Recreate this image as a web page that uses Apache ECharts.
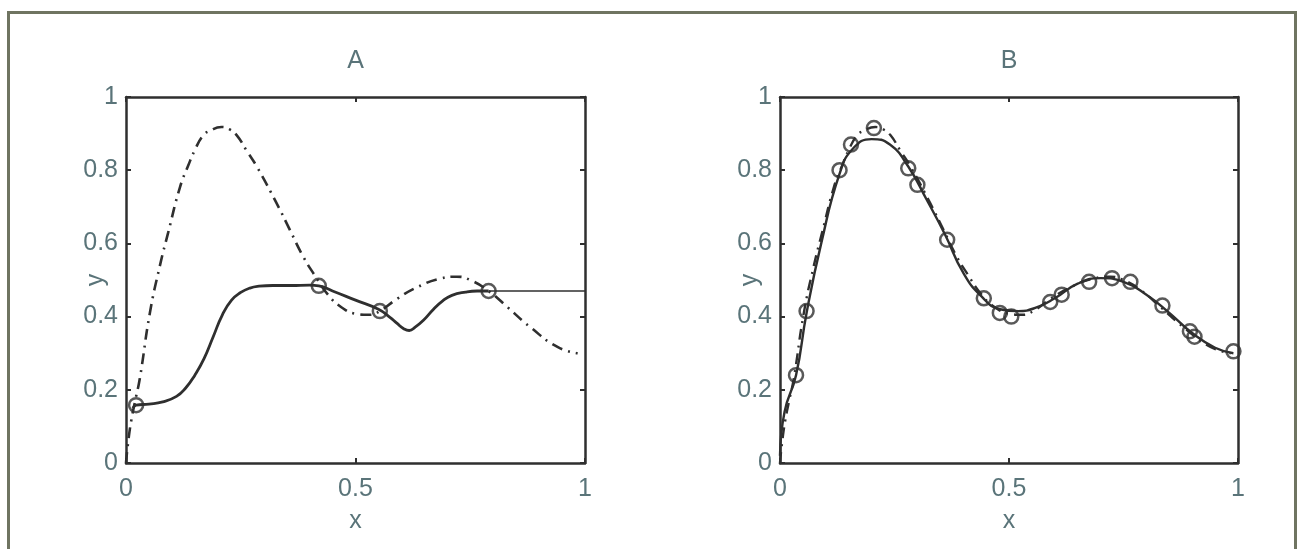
<!DOCTYPE html>
<html>
<head>
<meta charset="utf-8">
<script src="https://cdn.jsdelivr.net/npm/echarts@6/dist/echarts.min.js"></script>
<style>
html,body{margin:0;padding:0;background:#fff;}
#chart{width:1306px;height:549px;}
</style>
</head>
<body>
<div id="chart"></div>
<script>
// ---- data ----
const panelTitles = ['A', 'B'];
const xTickValues = [0, 0.5, 1];
const yTickValues = [0, 0.2, 0.4, 0.6, 0.8, 1];

// true function (dash-dot), used in both panels
const trueX = [0, 0.005, 0.012, 0.02, 0.03, 0.052, 0.074, 0.092, 0.118, 0.136, 0.15, 0.168, 0.183, 0.208, 0.225, 0.241, 0.263, 0.285, 0.328, 0.357, 0.386, 0.41, 0.44, 0.47, 0.5, 0.53, 0.553, 0.59, 0.634, 0.685, 0.721, 0.75, 0.79, 0.831, 0.881, 0.94, 0.984];
const trueY = [0, 0.06, 0.12, 0.17, 0.23, 0.41, 0.54, 0.63, 0.755, 0.814, 0.855, 0.895, 0.908, 0.918, 0.912, 0.896, 0.853, 0.81, 0.71, 0.637, 0.564, 0.515, 0.46, 0.425, 0.408, 0.405, 0.415, 0.448, 0.48, 0.504, 0.509, 0.5, 0.47, 0.426, 0.371, 0.317, 0.30];

// panel A fitted curve (solid)
const fitAX = [0.015, 0.022, 0.05, 0.08, 0.11, 0.13, 0.15, 0.17, 0.19, 0.21, 0.23, 0.25, 0.27, 0.29, 0.32, 0.36, 0.40, 0.42, 0.45, 0.50, 0.55, 0.575, 0.59, 0.605, 0.617, 0.63, 0.648, 0.67, 0.69, 0.71, 0.74, 0.765, 0.79];
const fitAY = [0.15, 0.158, 0.161, 0.167, 0.182, 0.205, 0.24, 0.285, 0.345, 0.405, 0.445, 0.466, 0.478, 0.483, 0.485, 0.485, 0.486, 0.484, 0.47, 0.445, 0.42, 0.398, 0.382, 0.367, 0.362, 0.371, 0.39, 0.42, 0.443, 0.458, 0.467, 0.47, 0.47];
// panel A thin continuation
const tailAX = [0.79, 1];
const tailAY = [0.47, 0.47];
// panel A sample points
const ptsAX = [0.022, 0.42, 0.553, 0.79];
const ptsAY = [0.158, 0.484, 0.415, 0.47];

// panel B fitted curve (solid)
const fitBX = [0, 0.01, 0.035, 0.058, 0.09, 0.13, 0.16, 0.2, 0.24, 0.28, 0.32, 0.36, 0.4, 0.44, 0.48, 0.52, 0.56, 0.6, 0.65, 0.7, 0.75, 0.8, 0.85, 0.9, 0.95, 0.99];
const fitBY = [0.02, 0.14, 0.24, 0.41, 0.6, 0.79, 0.86, 0.885, 0.87, 0.81, 0.72, 0.625, 0.52, 0.455, 0.42, 0.415, 0.425, 0.45, 0.49, 0.505, 0.495, 0.46, 0.41, 0.355, 0.315, 0.30];
// panel B sample points
const ptsBX = [0.035, 0.058, 0.13, 0.155, 0.205, 0.28, 0.30, 0.365, 0.445, 0.48, 0.505, 0.59, 0.615, 0.675, 0.725, 0.765, 0.835, 0.895, 0.905, 0.99];
const ptsBY = [0.24, 0.415, 0.80, 0.87, 0.915, 0.805, 0.76, 0.61, 0.45, 0.41, 0.40, 0.44, 0.46, 0.495, 0.505, 0.495, 0.43, 0.36, 0.345, 0.305];

// ---- build ----
const zip = (xs, ys) => xs.map((x, i) => [x, ys[i]]);
const TXT = '#5a7479';
const LINE = '#2f2f2f';
const FONT = '"Liberation Sans", Arial, sans-serif';
const FS = 25;
const DASHDOT = [11, 6, 2, 6];

const grids = [
  {left: 126, top: 97, width: 459, height: 366},
  {left: 780, top: 97, width: 458, height: 366}
];

function fmt(v) {
  const r = Math.round(v * 10) / 10;
  return String(r);
}

const xAxes = [], yAxes = [];
grids.forEach((g, gi) => {
  const common = {
    type: 'value', min: 0, max: 1, gridIndex: gi,
    nameMoveOverlap: false,
    axisLine: {show: true, onZero: false, lineStyle: {color: LINE, width: 2.5}},
    axisTick: {show: true, inside: true, length: 5, lineStyle: {color: LINE, width: 2}},
    splitLine: {show: false}
  };
  xAxes.push(Object.assign({}, common, {
    position: 'bottom', interval: xTickValues[1] - xTickValues[0],
    name: 'x', nameLocation: 'middle', nameGap: 46,
    nameTextStyle: {color: TXT, fontSize: FS, fontFamily: FONT},
    axisLabel: {color: TXT, fontSize: FS, fontFamily: FONT, margin: 14, formatter: fmt}
  }));
  xAxes.push(Object.assign({}, common, {
    position: 'top', interval: xTickValues[1] - xTickValues[0],
    name: panelTitles[gi], nameLocation: 'middle', nameGap: 23,
    nameTextStyle: {color: TXT, fontSize: FS, fontFamily: FONT},
    axisLabel: {show: false}
  }));
  yAxes.push(Object.assign({}, common, {
    position: 'left', interval: yTickValues[1] - yTickValues[0],
    name: 'y', nameLocation: 'middle', nameGap: 17, nameRotate: 90,
    nameTextStyle: {color: TXT, fontSize: FS, fontFamily: FONT},
    axisLabel: {color: TXT, fontSize: FS, fontFamily: FONT, margin: 8, formatter: fmt}
  }));
  yAxes.push(Object.assign({}, common, {
    position: 'right', interval: yTickValues[1] - yTickValues[0],
    axisLabel: {show: false}
  }));
});

function lineSeries(xs, ys, axis, type, width) {
  return {
    type: 'line', xAxisIndex: axis, yAxisIndex: axis,
    data: zip(xs, ys), showSymbol: false, symbol: 'none',
    smooth: 0.5, silent: true, animation: false,
    lineStyle: {color: LINE, width: width, type: type}
  };
}
function pointSeries(xs, ys, axis) {
  return {
    type: 'scatter', xAxisIndex: axis, yAxisIndex: axis,
    data: zip(xs, ys), symbol: 'circle', symbolSize: 14,
    silent: true, animation: false,
    itemStyle: {color: 'rgba(255,255,255,0)', borderColor: LINE, borderWidth: 2.5}
  };
}

const series = [
  lineSeries(trueX, trueY, 0, DASHDOT, 2.6),
  lineSeries(fitAX, fitAY, 0, 'solid', 2.8),
  lineSeries(tailAX, tailAY, 0, 'solid', 1.4),
  pointSeries(ptsAX, ptsAY, 0),
  lineSeries(trueX, trueY, 2, DASHDOT, 2.4),
  lineSeries(fitBX, fitBY, 2, 'solid', 2.4),
  pointSeries(ptsBX, ptsBY, 2)
];

const chart = echarts.init(document.getElementById('chart'), null, {renderer: 'canvas'});
chart.setOption({
  backgroundColor: '#ffffff',
  animation: false,
  grid: grids,
  xAxis: xAxes,
  yAxis: yAxes,
  series: series,
  graphic: [{
    type: 'rect', silent: true,
    shape: {x: 8.5, y: 12.5, width: 1287, height: 560},
    style: {fill: 'none', stroke: '#6f7461', lineWidth: 3}
  }]
});
</script>
</body>
</html>
